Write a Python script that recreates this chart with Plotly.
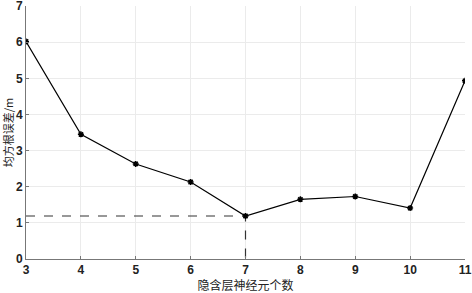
import plotly.graph_objects as go

neurons = [3, 4, 5, 6, 7, 8, 9, 10, 11]
rmse = [6.02, 3.45, 2.63, 2.13, 1.19, 1.65, 1.73, 1.41, 4.93]
best_x = 7
best_y = 1.19
x_ticks = [3, 4, 5, 6, 7, 8, 9, 10, 11]
y_ticks = [0, 1, 2, 3, 4, 5, 6, 7]

fig = go.Figure()
fig.add_trace(go.Scatter(x=[neurons[0], best_x, best_x], y=[best_y, best_y, 0],
                         mode="lines", line=dict(color="#333333", width=1.2, dash="dash"),
                         showlegend=False, hoverinfo="skip"))
fig.add_trace(go.Scatter(x=neurons, y=rmse, mode="lines+markers",
                         line=dict(color="black", width=1.2),
                         marker=dict(symbol="asterisk-open", size=5, color="black",
                                     line=dict(color="black", width=1.5)),
                         showlegend=False))

tick_font = dict(family="Liberation Sans, Arial", size=12, color="#222222", weight="bold")
fig.update_layout(
    width=472, height=293,
    margin=dict(l=26, r=7, t=6, b=34, autoexpand=False),
    paper_bgcolor="white", plot_bgcolor="white",
    xaxis=dict(range=[3, 11], tickvals=x_ticks, showgrid=True, gridcolor="#ebebeb",
               zeroline=False, showline=True, linecolor="#777777", linewidth=1,
               ticks="inside", ticklen=3, tickcolor="#777777", automargin=False,
               tickfont=tick_font, ticklabeloverflow="allow",
               title=dict(text="隐含层神经元个数", standoff=3,
                          font=dict(family="Noto Sans CJK SC", size=12, color="#222222"))),
    yaxis=dict(range=[0, 7.001], tickvals=y_ticks, showgrid=True, gridcolor="#ebebeb",
               zeroline=False, showline=True, linecolor="#777777", linewidth=1,
               ticks="inside", ticklen=3, tickcolor="#777777", automargin=False,
               tickfont=tick_font, ticklabeloverflow="allow",
               title=dict(text="均方根误差/m", standoff=1,
                          font=dict(family="Noto Sans CJK SC", size=11, color="#222222"))),
)
fig.write_html("out.html", config={"displayModeBar": False},
               post_script="document.body.style.margin='0';")
